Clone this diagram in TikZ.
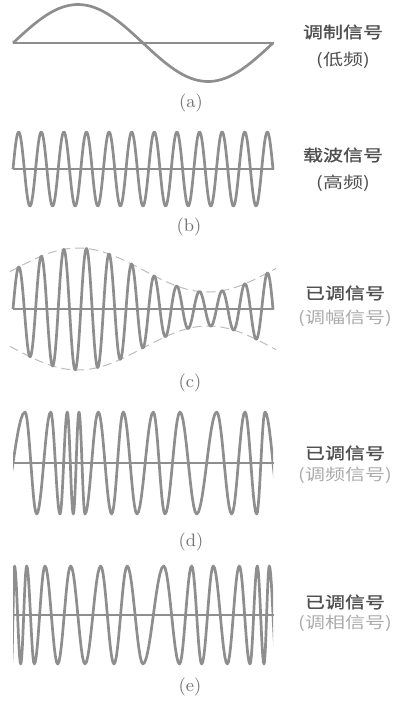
\documentclass[tikz,border=0pt]{standalone}
\usepackage{fontspec}
\newfontfamily\cjk[FakeStretch=1.25]{Noto Sans CJK SC}
\newfontfamily\cjkb[FakeStretch=1.25,FakeBold=1.2]{Noto Sans CJK SC}
\usetikzlibrary{positioning}
\definecolor{wavegray}{HTML}{8E8E8E}
\definecolor{titlegray}{HTML}{505050}
\definecolor{notegray}{HTML}{ABABAB}

\begin{document}
\begin{tikzpicture}[
    x=0.5pt, y=0.5pt,
    wave/.style={wavegray, line width=1.35pt, line join=round},
    axisline/.style={wavegray, line width=0.7pt},
    envline/.style={notegray!80, line width=0.5pt, dash pattern=on 4.5pt off 2.5pt},
    sigtitle/.style={font=\cjkb\fontsize{8}{9}\selectfont, text=titlegray, inner sep=1pt},
    signote/.style={font=\cjk\fontsize{8}{9}\selectfont, text=titlegray, inner sep=1pt},
    signotelight/.style={signote, text=notegray},
    caption/.style={font=\small, text=black!55, inner sep=1pt}
  ]
  \useasboundingbox (0,0) rectangle (402,-703);

  % (a) modulating signal
  \draw[axisline] (13,-43) -- (274,-43);
  \draw[wave] plot[domain=13:273, samples=80] (\x, {-43+38.5*sin((\x-13)/260*360)});
  \node[sigtitle] (ta) at (343,-32) {调制信号};
  \node[signote, below=4pt of ta] (na) {(低频)};
  \node[caption] (ca) at (191,-103) {(a)};

  % (b) carrier
  \draw[axisline] (13,-169) -- (274,-169);
  \draw[wave] plot[domain=13:273, samples=400] (\x, {-169+37*sin((\x-13)/260*4140)});
  \node[sigtitle] (tb) at (343,-155) {载波信号};
  \node[signote, below=4pt of tb] (nb) {(高频)};
  \node[caption] (cb) at (189,-227) {(b)};

  % (c) amplitude modulated, dashed envelope
  \draw[axisline] (13,-309) -- (274,-309);
  \draw[envline] plot[domain=10:276, samples=60] (\x, {-309+39+22*sin((\x-13)/260*360)});
  \draw[envline] plot[domain=10:276, samples=60] (\x, {-309-39-22*sin((\x-13)/260*360)});
  \draw[wave] plot[domain=13:273, samples=400] (\x, {-309+(39+22*sin((\x-13)/260*360))*sin((\x-13)/260*4140)});
  \node[sigtitle] (tc) at (345,-293) {已调信号};
  \node[signotelight, below=2.5pt of tc] (nc) {(调幅信号)};
  \node[caption] (cc) at (190,-383) {(c)};

  % (d) and (e): half waves between the read-off peaks and troughs
  \begin{scope}
    \clip (13,-380) rectangle (273,-700);
    \draw[wave] (1,-514) \foreach \x [count=\i, remember=\x as \lx (initially 1)] in
      {25,36.7,50.7,60,67.3,73.3,79,85,98.3,111.7,123.3,137,153.3,165,180,196.7,216.7,231.7,245,256.7,265,281}
      { -- plot[variable=\t, domain=\lx:\x, samples=12] (\t, {-463+51*cos(180*(\i+(\t-\lx)/(\x-\lx)))}) };
    \draw[wave] (11.5,-664) \foreach \x [count=\i, remember=\x as \lx (initially 11.5)] in
      {14.5,20.7,26.7,34.3,45,57.7,70.7,85,100.7,114,127.2,143,163.7,179.5,191.7,201.7,213.3,227.3,239.3,250,257.3,264,269.3,276.7}
      { -- plot[variable=\t, domain=\lx:\x, samples=12] (\t, {-615+49*cos(180*(\i+(\t-\lx)/(\x-\lx)))}) };
  \end{scope}

  % (d) frequency modulated
  \draw[axisline] (13,-463) -- (274,-463);
  \node[sigtitle] (td) at (345,-453) {已调信号};
  \node[signotelight, below=1pt of td] (nd) {(调频信号)};
  \node[caption] (cd) at (191,-542) {(d)};

  % (e) phase modulated
  \draw[axisline] (13,-615) -- (274,-615);
  \node[sigtitle] (te) at (345,-602) {已调信号};
  \node[signotelight, below=0.5pt of te] (ne) {(调相信号)};
  \node[caption] (ce) at (190,-687) {(e)};

\end{tikzpicture}
\end{document}
